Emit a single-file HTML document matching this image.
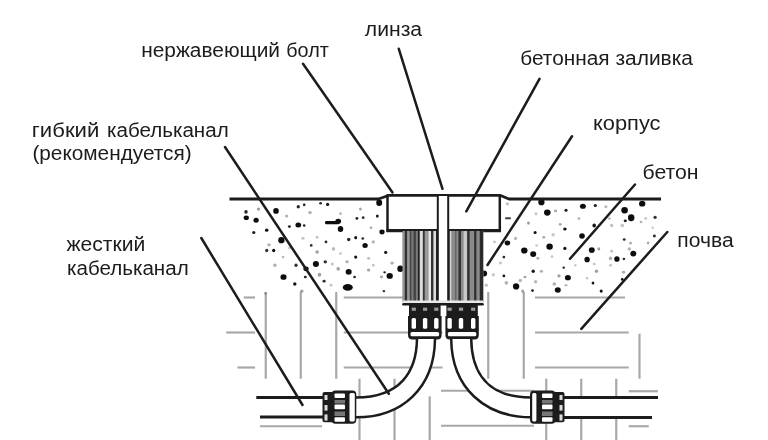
<!DOCTYPE html>
<html><head><meta charset="utf-8"><title>diagram</title>
<style>html,body{margin:0;padding:0;background:#fff}svg{display:block}text{font-family:"Liberation Sans",sans-serif;font-size:19.5px;fill:#1c1c1c}</style></head><body>
<svg width="768" height="440" viewBox="0 0 768 440">
<defs><filter id="bl" x="-5%" y="-5%" width="110%" height="110%"><feGaussianBlur stdDeviation="0.6"/></filter>
<clipPath id="soil"><polygon points="222,290 670,290 640,440 250,440"/></clipPath>
</defs>
<rect width="768" height="440" fill="#fff"/>
<g filter="url(#bl)">
<g stroke="#a8a8a8" stroke-width="2.2" fill="none">
<path d="M243.75 297.5H255"/>
<path d="M226.25 332.5H255"/>
<path d="M237.5 367.5H255"/>
<path d="M265.75 292V378.75"/>
<path d="M300.75 292V378.75"/>
<path d="M336.25 292V378.75"/>
<path d="M343.75 297.5H442.5"/>
<path d="M343.75 332.5H442.5"/>
<path d="M343.75 367.5H442.5"/>
<path d="M488.25 292V378.75"/>
<path d="M523.75 292V378.75"/>
<path d="M535 297.5H625"/>
<path d="M535 332.5H628.75"/>
<path d="M535 367.5H628.75"/>
<path d="M639.5 333.75V378.75"/>
<path d="M260 426.25H322"/>
<path d="M359.5 378.75V440"/>
<path d="M394.5 378.75V440"/>
<path d="M429.7 396.4V440"/>
<path d="M441 390.75H534"/>
<path d="M441 425.75H534"/>
<path d="M546.25 378.75V440"/>
<path d="M581.25 378.75V440"/>
<path d="M616.25 378.75V440"/>
<path d="M628.75 391.25H658"/>
<path d="M628.75 426.25H648.75"/>
</g>
<g fill="#111">
<ellipse cx="276.0" cy="210.9" rx="2.83" ry="2.86" opacity="1.00"/>
<ellipse cx="256.1" cy="220.3" rx="2.65" ry="2.50" opacity="1.00"/>
<ellipse cx="246.3" cy="217.7" rx="2.64" ry="2.27" opacity="1.00"/>
<ellipse cx="298.3" cy="225.0" rx="2.90" ry="2.53" opacity="1.00"/>
<ellipse cx="338.2" cy="221.2" rx="2.90" ry="2.55" opacity="1.00"/>
<ellipse cx="340.5" cy="229.0" rx="2.76" ry="3.00" opacity="1.00"/>
<ellipse cx="379.2" cy="202.7" rx="3.00" ry="3.29" opacity="1.00"/>
<ellipse cx="382.0" cy="232.0" rx="2.63" ry="2.43" opacity="1.00"/>
<ellipse cx="365.1" cy="245.4" rx="2.70" ry="2.50" opacity="1.00"/>
<ellipse cx="281.4" cy="240.2" rx="3.17" ry="3.16" opacity="1.00"/>
<ellipse cx="315.9" cy="264.1" rx="3.05" ry="3.01" opacity="1.00"/>
<ellipse cx="306.0" cy="268.8" rx="2.64" ry="2.38" opacity="1.00"/>
<ellipse cx="283.5" cy="277.0" rx="3.08" ry="2.86" opacity="1.00"/>
<ellipse cx="348.7" cy="271.9" rx="3.01" ry="2.78" opacity="1.00"/>
<ellipse cx="389.7" cy="275.9" rx="3.16" ry="2.88" opacity="1.00"/>
<ellipse cx="400.3" cy="268.8" rx="3.00" ry="3.21" opacity="1.00"/>
<ellipse cx="298.3" cy="206.7" rx="1.66" ry="1.82" opacity="0.89"/>
<ellipse cx="304.2" cy="204.8" rx="1.36" ry="1.41" opacity="0.91"/>
<ellipse cx="320.6" cy="203.2" rx="1.38" ry="1.18" opacity="0.92"/>
<ellipse cx="327.6" cy="204.4" rx="1.63" ry="1.62" opacity="0.96"/>
<ellipse cx="246.0" cy="211.9" rx="1.74" ry="1.78" opacity="0.90"/>
<ellipse cx="253.8" cy="232.5" rx="1.60" ry="1.54" opacity="0.94"/>
<ellipse cx="266.7" cy="230.2" rx="1.72" ry="1.67" opacity="0.99"/>
<ellipse cx="266.7" cy="250.5" rx="1.63" ry="1.67" opacity="0.86"/>
<ellipse cx="273.7" cy="250.5" rx="1.62" ry="1.71" opacity="1.00"/>
<ellipse cx="289.4" cy="226.6" rx="1.44" ry="1.47" opacity="0.91"/>
<ellipse cx="304.2" cy="225.5" rx="1.31" ry="1.17" opacity="0.92"/>
<ellipse cx="311.2" cy="245.4" rx="1.36" ry="1.42" opacity="0.86"/>
<ellipse cx="326.0" cy="241.9" rx="1.36" ry="1.29" opacity="0.89"/>
<ellipse cx="325.3" cy="261.8" rx="1.74" ry="1.67" opacity="0.86"/>
<ellipse cx="355.7" cy="257.1" rx="1.57" ry="1.66" opacity="0.98"/>
<ellipse cx="348.7" cy="239.5" rx="1.73" ry="1.65" opacity="0.89"/>
<ellipse cx="355.7" cy="237.7" rx="1.48" ry="1.61" opacity="0.98"/>
<ellipse cx="362.8" cy="238.4" rx="1.38" ry="1.25" opacity="0.88"/>
<ellipse cx="356.9" cy="218.4" rx="1.42" ry="1.41" opacity="0.92"/>
<ellipse cx="363.2" cy="217.7" rx="1.43" ry="1.37" opacity="0.85"/>
<ellipse cx="377.3" cy="216.1" rx="1.48" ry="1.62" opacity="0.93"/>
<ellipse cx="385.7" cy="252.4" rx="1.65" ry="1.65" opacity="0.93"/>
<ellipse cx="296.0" cy="265.3" rx="1.64" ry="1.76" opacity="0.86"/>
<ellipse cx="294.8" cy="284.1" rx="1.69" ry="1.77" opacity="0.98"/>
<ellipse cx="305.3" cy="277.0" rx="1.50" ry="1.31" opacity="0.91"/>
<ellipse cx="324.1" cy="281.2" rx="1.62" ry="1.40" opacity="0.86"/>
<ellipse cx="354.6" cy="277.0" rx="1.40" ry="1.31" opacity="0.87"/>
<ellipse cx="383.9" cy="291.1" rx="1.33" ry="1.18" opacity="0.85"/>
<ellipse cx="384.6" cy="272.3" rx="1.35" ry="1.16" opacity="0.90"/>
<ellipse cx="310.0" cy="212.6" rx="1.74" ry="1.54" opacity="0.32"/>
<ellipse cx="340.5" cy="213.7" rx="1.43" ry="1.34" opacity="0.27"/>
<ellipse cx="360.4" cy="209.1" rx="1.36" ry="1.50" opacity="0.37"/>
<ellipse cx="371.0" cy="227.8" rx="1.53" ry="1.34" opacity="0.30"/>
<ellipse cx="317.1" cy="237.2" rx="1.35" ry="1.24" opacity="0.27"/>
<ellipse cx="303.0" cy="238.4" rx="1.71" ry="1.47" opacity="0.23"/>
<ellipse cx="269.0" cy="244.7" rx="1.78" ry="1.57" opacity="0.31"/>
<ellipse cx="289.4" cy="247.7" rx="1.57" ry="1.54" opacity="0.21"/>
<ellipse cx="317.1" cy="252.0" rx="1.79" ry="1.83" opacity="0.37"/>
<ellipse cx="283.1" cy="257.1" rx="1.43" ry="1.28" opacity="0.27"/>
<ellipse cx="274.9" cy="265.3" rx="1.69" ry="1.76" opacity="0.31"/>
<ellipse cx="332.3" cy="264.1" rx="1.46" ry="1.54" opacity="0.24"/>
<ellipse cx="338.2" cy="268.8" rx="1.79" ry="1.88" opacity="0.37"/>
<ellipse cx="347.1" cy="261.8" rx="1.71" ry="1.55" opacity="0.35"/>
<ellipse cx="368.6" cy="258.3" rx="1.56" ry="1.34" opacity="0.27"/>
<ellipse cx="373.3" cy="265.3" rx="1.31" ry="1.20" opacity="0.26"/>
<ellipse cx="368.6" cy="270.0" rx="1.65" ry="1.58" opacity="0.39"/>
<ellipse cx="319.4" cy="274.7" rx="1.77" ry="1.93" opacity="0.40"/>
<ellipse cx="331.1" cy="285.2" rx="1.48" ry="1.34" opacity="0.24"/>
<ellipse cx="265.5" cy="293.4" rx="1.40" ry="1.41" opacity="0.24"/>
<ellipse cx="301.8" cy="291.1" rx="1.75" ry="1.70" opacity="0.37"/>
<ellipse cx="381.5" cy="277.0" rx="1.63" ry="1.42" opacity="0.36"/>
<ellipse cx="258.5" cy="209.1" rx="1.63" ry="1.70" opacity="0.38"/>
<ellipse cx="286.6" cy="216.1" rx="1.68" ry="1.50" opacity="0.30"/>
<ellipse cx="333.5" cy="248.9" rx="1.69" ry="1.78" opacity="0.27"/>
<ellipse cx="373.3" cy="241.9" rx="1.79" ry="1.70" opacity="0.28"/>
<ellipse cx="392.1" cy="263.0" rx="1.77" ry="1.58" opacity="0.34"/>
<ellipse cx="340.5" cy="253.6" rx="1.36" ry="1.47" opacity="0.23"/>
<ellipse cx="541.4" cy="202.0" rx="3.16" ry="3.34" opacity="1.00"/>
<ellipse cx="547.3" cy="212.6" rx="3.29" ry="3.08" opacity="1.00"/>
<ellipse cx="582.9" cy="206.2" rx="2.98" ry="2.55" opacity="1.00"/>
<ellipse cx="624.6" cy="210.2" rx="3.28" ry="3.22" opacity="1.00"/>
<ellipse cx="631.2" cy="217.7" rx="3.25" ry="3.47" opacity="1.00"/>
<ellipse cx="642.2" cy="203.7" rx="3.18" ry="2.90" opacity="1.00"/>
<ellipse cx="582.0" cy="236.0" rx="2.81" ry="2.80" opacity="1.00"/>
<ellipse cx="507.4" cy="243.0" rx="2.78" ry="2.46" opacity="1.00"/>
<ellipse cx="524.3" cy="250.5" rx="3.24" ry="3.12" opacity="1.00"/>
<ellipse cx="533.2" cy="254.1" rx="3.01" ry="2.87" opacity="1.00"/>
<ellipse cx="549.6" cy="246.6" rx="3.24" ry="3.19" opacity="1.00"/>
<ellipse cx="591.8" cy="250.1" rx="2.97" ry="2.85" opacity="1.00"/>
<ellipse cx="587.1" cy="259.5" rx="2.73" ry="2.86" opacity="1.00"/>
<ellipse cx="616.9" cy="259.0" rx="2.72" ry="2.81" opacity="1.00"/>
<ellipse cx="633.3" cy="253.6" rx="2.99" ry="2.93" opacity="1.00"/>
<ellipse cx="567.9" cy="277.7" rx="2.99" ry="2.62" opacity="1.00"/>
<ellipse cx="557.8" cy="289.9" rx="2.99" ry="2.75" opacity="1.00"/>
<ellipse cx="516.1" cy="286.4" rx="3.14" ry="3.11" opacity="1.00"/>
<ellipse cx="484.0" cy="273.5" rx="3.13" ry="3.01" opacity="1.00"/>
<ellipse cx="566.0" cy="210.2" rx="1.61" ry="1.57" opacity="0.93"/>
<ellipse cx="595.3" cy="205.5" rx="1.65" ry="1.62" opacity="0.92"/>
<ellipse cx="535.1" cy="232.5" rx="1.54" ry="1.58" opacity="0.99"/>
<ellipse cx="564.9" cy="229.0" rx="1.74" ry="1.59" opacity="0.99"/>
<ellipse cx="564.9" cy="248.4" rx="1.58" ry="1.67" opacity="0.99"/>
<ellipse cx="503.9" cy="257.1" rx="1.37" ry="1.31" opacity="0.87"/>
<ellipse cx="563.7" cy="267.7" rx="1.34" ry="1.16" opacity="0.89"/>
<ellipse cx="533.2" cy="271.2" rx="1.63" ry="1.76" opacity="0.97"/>
<ellipse cx="503.9" cy="275.9" rx="1.38" ry="1.40" opacity="0.96"/>
<ellipse cx="593.0" cy="282.9" rx="1.37" ry="1.50" opacity="0.98"/>
<ellipse cx="622.3" cy="279.4" rx="1.41" ry="1.34" opacity="0.99"/>
<ellipse cx="601.2" cy="291.1" rx="1.54" ry="1.63" opacity="1.00"/>
<ellipse cx="532.5" cy="290.6" rx="1.38" ry="1.35" opacity="0.91"/>
<ellipse cx="624.2" cy="239.5" rx="1.47" ry="1.37" opacity="0.88"/>
<ellipse cx="655.1" cy="217.3" rx="1.66" ry="1.64" opacity="0.85"/>
<ellipse cx="654.4" cy="236.0" rx="1.52" ry="1.42" opacity="0.85"/>
<ellipse cx="625.3" cy="220.8" rx="1.61" ry="1.40" opacity="0.93"/>
<ellipse cx="594.2" cy="225.5" rx="1.79" ry="1.96" opacity="0.97"/>
<ellipse cx="623.9" cy="259.0" rx="1.35" ry="1.16" opacity="0.89"/>
<ellipse cx="507.4" cy="203.9" rx="1.69" ry="1.49" opacity="0.25"/>
<ellipse cx="528.5" cy="223.1" rx="1.51" ry="1.59" opacity="0.38"/>
<ellipse cx="536.0" cy="213.7" rx="1.43" ry="1.54" opacity="0.23"/>
<ellipse cx="555.5" cy="210.9" rx="1.59" ry="1.38" opacity="0.34"/>
<ellipse cx="578.9" cy="218.4" rx="1.33" ry="1.27" opacity="0.34"/>
<ellipse cx="560.2" cy="224.3" rx="1.34" ry="1.35" opacity="0.39"/>
<ellipse cx="553.1" cy="234.8" rx="1.70" ry="1.81" opacity="0.22"/>
<ellipse cx="543.8" cy="237.2" rx="1.33" ry="1.28" opacity="0.37"/>
<ellipse cx="515.6" cy="238.4" rx="1.47" ry="1.59" opacity="0.31"/>
<ellipse cx="494.5" cy="241.9" rx="1.43" ry="1.41" opacity="0.23"/>
<ellipse cx="536.7" cy="245.4" rx="1.42" ry="1.26" opacity="0.22"/>
<ellipse cx="552.0" cy="256.4" rx="1.33" ry="1.23" opacity="0.24"/>
<ellipse cx="537.9" cy="258.3" rx="1.45" ry="1.34" opacity="0.35"/>
<ellipse cx="500.4" cy="263.0" rx="1.55" ry="1.45" opacity="0.24"/>
<ellipse cx="575.4" cy="265.3" rx="1.31" ry="1.12" opacity="0.25"/>
<ellipse cx="541.4" cy="271.2" rx="1.67" ry="1.50" opacity="0.31"/>
<ellipse cx="525.0" cy="277.0" rx="1.54" ry="1.35" opacity="0.39"/>
<ellipse cx="520.3" cy="280.5" rx="1.71" ry="1.66" opacity="0.29"/>
<ellipse cx="535.6" cy="281.7" rx="1.72" ry="1.68" opacity="0.28"/>
<ellipse cx="559.0" cy="275.9" rx="1.64" ry="1.54" opacity="0.40"/>
<ellipse cx="554.3" cy="284.1" rx="1.72" ry="1.73" opacity="0.34"/>
<ellipse cx="566.0" cy="285.2" rx="1.50" ry="1.30" opacity="0.27"/>
<ellipse cx="587.1" cy="278.2" rx="1.36" ry="1.41" opacity="0.21"/>
<ellipse cx="594.2" cy="264.1" rx="1.43" ry="1.24" opacity="0.23"/>
<ellipse cx="596.5" cy="271.2" rx="1.72" ry="1.75" opacity="0.37"/>
<ellipse cx="610.6" cy="265.3" rx="1.44" ry="1.33" opacity="0.25"/>
<ellipse cx="611.7" cy="251.2" rx="1.53" ry="1.47" opacity="0.23"/>
<ellipse cx="598.8" cy="248.9" rx="1.43" ry="1.56" opacity="0.39"/>
<ellipse cx="611.7" cy="225.5" rx="1.57" ry="1.72" opacity="0.25"/>
<ellipse cx="609.4" cy="218.4" rx="1.45" ry="1.24" opacity="0.27"/>
<ellipse cx="605.9" cy="206.7" rx="1.49" ry="1.45" opacity="0.29"/>
<ellipse cx="641.0" cy="222.0" rx="1.40" ry="1.19" opacity="0.30"/>
<ellipse cx="645.7" cy="218.4" rx="1.43" ry="1.36" opacity="0.22"/>
<ellipse cx="652.7" cy="227.8" rx="1.32" ry="1.22" opacity="0.20"/>
<ellipse cx="648.1" cy="243.0" rx="1.42" ry="1.39" opacity="0.32"/>
<ellipse cx="629.3" cy="248.9" rx="1.68" ry="1.72" opacity="0.33"/>
<ellipse cx="630.5" cy="243.0" rx="1.74" ry="1.62" opacity="0.28"/>
<ellipse cx="622.3" cy="225.5" rx="1.79" ry="1.85" opacity="0.23"/>
<ellipse cx="493.4" cy="274.7" rx="1.62" ry="1.72" opacity="0.21"/>
<ellipse cx="506.3" cy="282.9" rx="1.75" ry="1.80" opacity="0.33"/>
<ellipse cx="486.3" cy="285.2" rx="1.71" ry="1.67" opacity="0.23"/>
<ellipse cx="522.7" cy="291.1" rx="1.55" ry="1.63" opacity="0.37"/>
<ellipse cx="610.6" cy="258.3" rx="1.71" ry="1.84" opacity="0.32"/>
<ellipse cx="623.5" cy="272.3" rx="1.64" ry="1.49" opacity="0.34"/>
<ellipse cx="347.8" cy="287.4" rx="5" ry="3.3"/>
<rect x="325" y="221" width="14" height="3.2" rx="1.2"/>
<rect x="505" y="217.3" width="6" height="2" rx="1" opacity="0.8"/>
</g>
<path d="M229.5 199H378.5L388.5 195.5H500.5L509 199H661" stroke="#1c1c1c" stroke-width="2.8" fill="none" stroke-linejoin="round"/>
<rect x="387.5" y="195.5" width="112.3" height="35" fill="#fff" stroke="#1c1c1c" stroke-width="2.5"/>
<path d="M386.5 230.6H501" stroke="#1c1c1c" stroke-width="3.2"/>
<rect x="402.5" y="231" width="81" height="71" fill="#777"/>
<rect x="402.9" y="231" width="1.90" height="70.5" fill="#999"/>
<rect x="404.8" y="231" width="2.40" height="70.5" fill="#333"/>
<rect x="407.2" y="231" width="2.60" height="70.5" fill="#999"/>
<rect x="409.8" y="231" width="1.80" height="70.5" fill="#444"/>
<rect x="411.6" y="231" width="1.90" height="70.5" fill="#7a7a7a"/>
<rect x="413.5" y="231" width="2.50" height="70.5" fill="#444"/>
<rect x="416" y="231" width="1.90" height="70.5" fill="#7a7a7a"/>
<rect x="417.9" y="231" width="1.90" height="70.5" fill="#222"/>
<rect x="419.8" y="231" width="3.10" height="70.5" fill="#dcdcdc"/>
<rect x="422.9" y="231" width="1.90" height="70.5" fill="#333"/>
<rect x="424.8" y="231" width="3.70" height="70.5" fill="#999"/>
<rect x="428.5" y="231" width="2.50" height="70.5" fill="#e8e8e8"/>
<rect x="431" y="231" width="2.50" height="70.5" fill="#333"/>
<rect x="433.5" y="231" width="2.50" height="70.5" fill="#dcdcdc"/>
<rect x="436" y="231" width="3.20" height="70.5" fill="#222"/>
<rect x="439.2" y="231" width="8.00" height="70.5" fill="#fff"/>
<rect x="447.2" y="231" width="2.60" height="70.5" fill="#222"/>
<rect x="449.8" y="231" width="1.80" height="70.5" fill="#d8d8d8"/>
<rect x="451.6" y="231" width="3.40" height="70.5" fill="#8a8a8a"/>
<rect x="455" y="231" width="1.50" height="70.5" fill="#666"/>
<rect x="456.5" y="231" width="2.00" height="70.5" fill="#8a8a8a"/>
<rect x="458.5" y="231" width="2.50" height="70.5" fill="#333"/>
<rect x="461" y="231" width="2.50" height="70.5" fill="#8a8a8a"/>
<rect x="463.5" y="231" width="3.70" height="70.5" fill="#c8c8c8"/>
<rect x="467.2" y="231" width="2.60" height="70.5" fill="#333"/>
<rect x="469.8" y="231" width="4.30" height="70.5" fill="#8a8a8a"/>
<rect x="474.1" y="231" width="2.50" height="70.5" fill="#333"/>
<rect x="476.6" y="231" width="3.20" height="70.5" fill="#8a8a8a"/>
<rect x="479.8" y="231" width="3.20" height="70.5" fill="#2a2a2a"/>
<rect x="438" y="196" width="10" height="106" fill="#fff"/>
<path d="M437.8 196V303M448.2 196V303" stroke="#1c1c1c" stroke-width="2" fill="none"/>
<rect x="403" y="300.5" width="80" height="2.5" fill="#e8e8e8"/>
<path d="M403.5 304.3H482.5" stroke="#1c1c1c" stroke-width="2.6" stroke-linecap="round"/>
<path d="M409 305H440.6V316H441.6V335Q441.6 339.5 437.1 339.5H412.5Q408 339.5 408 335V316H409Z" fill="#1c1c1c"/>
<rect x="411.7" y="307.6" width="4.2" height="3.2" fill="#9a9a9a"/>
<rect x="423.0" y="307.6" width="4.2" height="3.2" fill="#9a9a9a"/>
<rect x="434.2" y="307.6" width="4.2" height="3.2" fill="#9a9a9a"/>
<rect x="411.6" y="318" width="4.4" height="10.8" rx="1.5" fill="#fff"/>
<rect x="422.9" y="318" width="4.4" height="10.8" rx="1.5" fill="#fff"/>
<rect x="434.1" y="318" width="4.4" height="10.8" rx="1.5" fill="#fff"/>
<rect x="410.5" y="332" width="28.600000000000023" height="4.3" rx="1.5" fill="#fff"/>
<path d="M446.4 305H477.8V316H478.8V335Q478.8 339.5 474.3 339.5H449.9Q445.4 339.5 445.4 335V316H446.4Z" fill="#1c1c1c"/>
<rect x="447.5" y="307.6" width="4.2" height="3.2" fill="#9a9a9a"/>
<rect x="458.9" y="307.6" width="4.2" height="3.2" fill="#9a9a9a"/>
<rect x="471.1" y="307.6" width="4.2" height="3.2" fill="#9a9a9a"/>
<rect x="447.4" y="318" width="4.4" height="10.8" rx="1.5" fill="#fff"/>
<rect x="458.8" y="318" width="4.4" height="10.8" rx="1.5" fill="#fff"/>
<rect x="471.0" y="318" width="4.4" height="10.8" rx="1.5" fill="#fff"/>
<rect x="447.9" y="332" width="28.400000000000034" height="4.3" rx="1.5" fill="#fff"/>
<path d="M417 339 C416.5 372 400 397.5 356 397.5 V417.3 C402 417.3 434.5 388 435 339Z" fill="#fff"/>
<path d="M417 339 C416.5 372 400 397.5 356 397.5M435 339 C434.5 388 402 417.3 356 417.3" stroke="#1c1c1c" stroke-width="2.5" fill="none"/>
<path d="M471.2 339 C471.7 372 487 397.5 531 397.5 V417.3 C485 417.3 451.7 388 451.2 339Z" fill="#fff"/>
<path d="M471.2 339 C471.7 372 487 397.5 531 397.5M451.2 339 C451.7 388 485 417.3 531 417.3" stroke="#1c1c1c" stroke-width="2.5" fill="none"/>
<rect x="257" y="397.5" width="66" height="19.5" fill="#fff"/>
<path d="M256.3 397.5H323M260 417H323" stroke="#1c1c1c" stroke-width="3" fill="none"/>
<rect x="564" y="397.5" width="90" height="20" fill="#fff"/>
<path d="M564 397.5H658M564 417.5H652" stroke="#1c1c1c" stroke-width="3" fill="none"/>
<g>
<rect x="322.5" y="392.1" width="12" height="30.19999999999999" rx="2" fill="#1c1c1c"/>
<rect x="331.5" y="390.6" width="24.80000000000001" height="33.19999999999999" rx="4" fill="#1c1c1c"/>
<rect x="324.5" y="395" width="3" height="5.0" fill="#ddd"/>
<rect x="324.5" y="405" width="3" height="5.6" fill="#ddd"/>
<rect x="324.5" y="414.4" width="3" height="6.2" fill="#ddd"/>
<rect x="334.5" y="393.6" width="10.5" height="4.4" rx="1" fill="#fff"/>
<rect x="334.5" y="404.4" width="10.5" height="4.8" rx="1" fill="#fff"/>
<rect x="334.5" y="417.3" width="10.5" height="4.5" rx="1" fill="#fff"/>
<rect x="334.5" y="400" width="10.5" height="3.5" fill="#777"/>
<rect x="334.5" y="411.5" width="10.5" height="4.5" fill="#777"/>
<rect x="349.5" y="392.90000000000003" width="5.3" height="28.599999999999987" rx="1.5" fill="#fff"/>
</g>
<g transform="translate(1094.5 0) scale(-1 1)">
<rect x="530" y="392.1" width="12" height="30.19999999999999" rx="2" fill="#1c1c1c"/>
<rect x="539" y="390.6" width="25.5" height="33.19999999999999" rx="4" fill="#1c1c1c"/>
<rect x="532" y="395" width="3" height="5.0" fill="#ddd"/>
<rect x="532" y="405" width="3" height="5.6" fill="#ddd"/>
<rect x="532" y="414.4" width="3" height="6.2" fill="#ddd"/>
<rect x="542" y="393.6" width="10.5" height="4.4" rx="1" fill="#fff"/>
<rect x="542" y="404.4" width="10.5" height="4.8" rx="1" fill="#fff"/>
<rect x="542" y="417.3" width="10.5" height="4.5" rx="1" fill="#fff"/>
<rect x="542" y="400" width="10.5" height="3.5" fill="#777"/>
<rect x="542" y="411.5" width="10.5" height="4.5" fill="#777"/>
<rect x="558.0999999999999" y="392.90000000000003" width="4.2" height="28.599999999999987" rx="1.5" fill="#fff"/>
</g>
<g stroke="#1c1c1c" stroke-width="2.5" stroke-linecap="round" fill="none">
<path d="M303 63.8L392.5 192.5"/>
<path d="M398.8 48.8L442.5 188.8"/>
<path d="M539.5 78.8L466.3 211.3"/>
<path d="M572 136.3L487.5 265"/>
<path d="M635 184.5L570 258.8"/>
<path d="M667.3 232L581.3 328.8"/>
<path d="M225 147L388.8 393.8"/>
<path d="M201.3 238L302.5 405"/>
</g>
<text x="141.2" y="56.7" textLength="138.8" lengthAdjust="spacingAndGlyphs">нержавеющий</text>
<text x="286.3" y="56.7" textLength="42.5" lengthAdjust="spacingAndGlyphs">болт</text>
<text x="364.8" y="36.3" textLength="57.3" lengthAdjust="spacingAndGlyphs">линза</text>
<text x="520.3" y="64.5" textLength="89.3" lengthAdjust="spacingAndGlyphs">бетонная</text>
<text x="615.5" y="64.5" textLength="77.5" lengthAdjust="spacingAndGlyphs">заливка</text>
<text x="593" y="130" textLength="67.5" lengthAdjust="spacingAndGlyphs">корпус</text>
<text x="642.5" y="178.8" textLength="56" lengthAdjust="spacingAndGlyphs">бетон</text>
<text x="677.3" y="247" textLength="56.3" lengthAdjust="spacingAndGlyphs">почва</text>
<text x="31.8" y="136.5" textLength="67.5" lengthAdjust="spacingAndGlyphs">гибкий</text>
<text x="107" y="136.5" textLength="121.7" lengthAdjust="spacingAndGlyphs">кабельканал</text>
<text x="32.4" y="159.5" textLength="159.3" lengthAdjust="spacingAndGlyphs">(рекомендуется)</text>
<text x="66.5" y="250.5" textLength="78.8" lengthAdjust="spacingAndGlyphs">жесткий</text>
<text x="67" y="274.5" textLength="121.7" lengthAdjust="spacingAndGlyphs">кабельканал</text>
</g></svg></body></html>
